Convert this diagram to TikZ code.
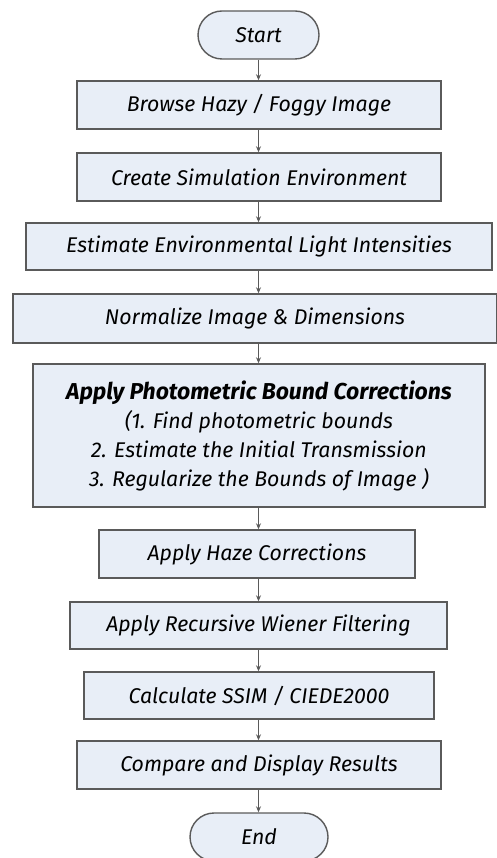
\documentclass[tikz,border=0pt]{standalone}
\usepackage{fontspec}
\setmainfont{Fira Sans}
\usetikzlibrary{arrows.meta}
\definecolor{boxfill}{HTML}{E8EEF7}
\definecolor{boxline}{HTML}{5A5A5A}
\tikzset{
  stepbox/.style={draw=boxline, line width=1.4pt, fill=boxfill, rectangle,
    inner sep=0pt, font=\fontsize{21.3}{29}\selectfont\itshape, align=center},
  termbox/.style={stepbox, rounded corners=24pt},
  flow/.style={draw=boxline, line width=1.1pt, -{Stealth[length=6pt,width=5pt]}},
}
\begin{document}
\begin{tikzpicture}[x=1pt,y=-1pt]
\useasboundingbox (0,0) rectangle (497,858);
\coordinate (axis) at (258.5,0);
\node[termbox, minimum width=121pt, minimum height=48pt] (start) at (258.5,35) {Start};
\node[stepbox, minimum width=364pt, minimum height=48pt] (browse) at (259,105) {Browse Hazy / Foggy Image};
\node[stepbox, minimum width=364pt, minimum height=48pt] (create) at (259,177) {Create Simulation Environment};
\node[stepbox, minimum width=466pt, minimum height=47pt] (light) at (259,246.5) {Estimate Environmental Light Intensities};
\node[stepbox, minimum width=484pt, minimum height=49pt] (norm) at (255,318.5) {Normalize Image \& Dimensions};
\node[stepbox, minimum width=452pt, minimum height=143pt] (bound) at (259,435.5)
  {{\fontsize{23}{29}\selectfont\bfseries Apply Photometric Bound Corrections}\\
   (1. Find photometric bounds\\
   2. Estimate the Initial Transmission\\
   3. Regularize the Bounds of Image )};
\node[stepbox, minimum width=316pt, minimum height=48pt] (haze) at (257,554) {Apply Haze Corrections};
\node[stepbox, minimum width=377pt, minimum height=47pt] (wiener) at (258.5,625.5) {Apply Recursive Wiener Filtering};
\node[stepbox, minimum width=350pt, minimum height=47pt] (ssim) at (259,695.5) {Calculate SSIM / CIEDE2000};
\node[stepbox, minimum width=364pt, minimum height=48pt] (compare) at (259,765) {Compare and Display Results};
\node[termbox, minimum width=138pt, minimum height=48pt] (end) at (259,837) {End};
\foreach \a/\b in {start/browse, browse/create, create/light, light/norm, norm/bound,
                   bound/haze, haze/wiener, wiener/ssim, ssim/compare, compare/end}
  \draw[flow] (\a.south -| axis) -- (\b.north -| axis);
\end{tikzpicture}
\end{document}
